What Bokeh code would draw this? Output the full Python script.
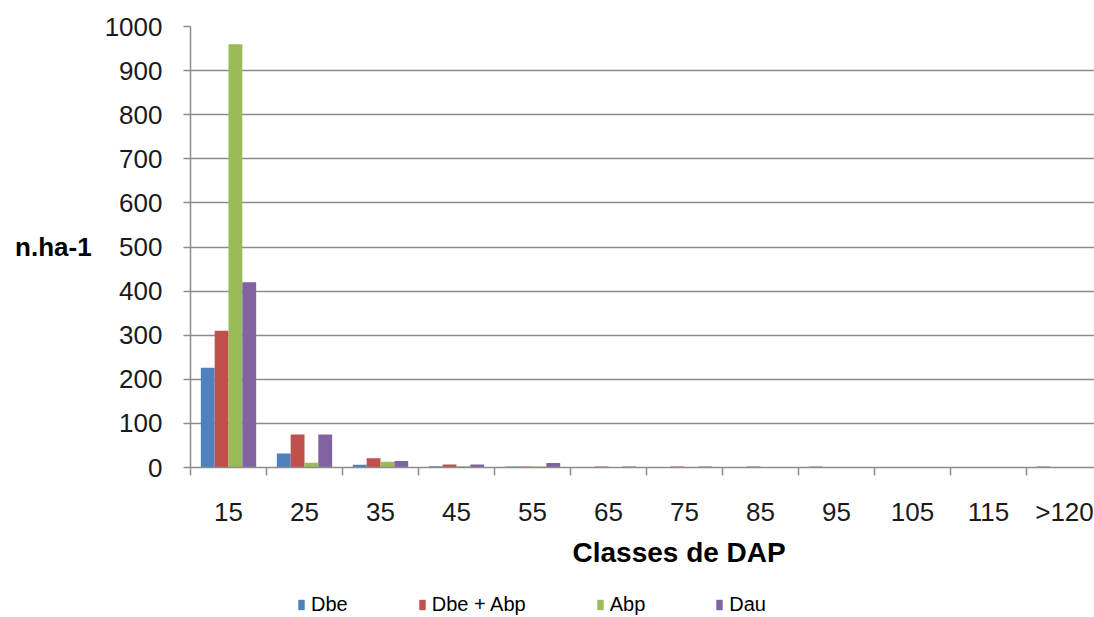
from bokeh.plotting import figure
from bokeh.layouts import column
from bokeh.models import (ColumnDataSource, FixedTicker, CustomJSTickFormatter,
                          Range1d, Legend, LegendItem, Title)
from bokeh.transform import dodge
from bokeh.embed import file_html
from bokeh.resources import INLINE

categories = ["15", "25", "35", "45", "55", "65", "75", "85", "95", "105", "115", ">120"]
dbe = [226, 32, 6, 3, 2, 0, 0, 0, 2, 0, 0, 2]
dbe_abp = [310, 75, 21, 7, 2, 2, 2, 2, 0, 0, 0, 0]
abp = [960, 11, 13, 3, 2, 0, 0, 0, 0, 0, 0, 0]
dau = [420, 75, 15, 7, 10, 2, 2, 0, 0, 0, 0, 0]
series_names = ["Dbe", "Dbe + Abp", "Abp", "Dau"]
series_cols = ["dbe", "dbe_abp", "abp", "dau"]
colors = ["#4F81BD", "#C0504D", "#9BBB59", "#8064A2"]
y_ticks = list(range(0, 1001, 100))

src = ColumnDataSource(dict(
    x=[i + 0.5 for i in range(len(categories))],
    dbe=dbe, dbe_abp=dbe_abp, abp=abp, dau=dau,
))

FONT = "Liberation Sans"
GRID = "#8C8C8C"

p = figure(width=1094, height=572, output_backend="svg", toolbar_location=None,
           x_range=Range1d(0, 904 / 76), y_range=Range1d(0, 1000),
           min_border_left=190, min_border_right=0, min_border_top=26,
           min_border_bottom=104)
p.outline_line_color = None
p.background_fill_color = "white"
p.border_fill_color = "white"

bw = 0.182
for k, (col, c) in enumerate(zip(series_cols, colors)):
    p.vbar(x=dodge("x", (k - 1.5) * bw, range=p.x_range), top=col, width=bw,
           source=src, fill_color=c, line_color=None)

# x axis
p.xaxis.ticker = FixedTicker(ticks=[i + 0.5 for i in range(len(categories))],
                             minor_ticks=list(range(len(categories) + 1)))
p.xaxis.formatter = CustomJSTickFormatter(args=dict(labels=categories),
                                          code="return labels[Math.floor(tick)];")
p.xaxis.major_tick_out = 0
p.xaxis.major_tick_in = 0
p.xaxis.minor_tick_out = 8
p.xaxis.minor_tick_in = 0
p.xaxis.minor_tick_line_color = GRID
p.xaxis.minor_tick_line_width = 1.5
p.xaxis.axis_line_color = GRID
p.xaxis.axis_line_width = 1.5
p.xaxis.major_label_standoff = 21
p.xaxis.major_label_text_font = FONT
p.xaxis.major_label_text_font_size = "26px"
p.xaxis.major_label_text_color = "#1a1a1a"

xtitle = Title(text="Classes de DAP", align="left", offset=382,
               text_font=FONT, text_font_size="28px", text_font_style="bold",
               text_color="#000000", standoff=10)
p.add_layout(xtitle, "below")

# y axis
p.yaxis.ticker = FixedTicker(ticks=y_ticks, minor_ticks=[])
p.yaxis.major_tick_out = 7
p.yaxis.major_tick_in = 0
p.yaxis.major_tick_line_color = GRID
p.yaxis.major_tick_line_width = 1.5
p.yaxis.minor_tick_out = 0
p.yaxis.minor_tick_in = 0
p.yaxis.axis_line_color = GRID
p.yaxis.axis_line_width = 1.5
p.yaxis.major_label_standoff = 21
p.yaxis.major_label_text_font = FONT
p.yaxis.major_label_text_font_size = "26px"
p.yaxis.major_label_text_color = "#1a1a1a"
p.yaxis.axis_label = "n.ha-1"
p.yaxis.axis_label_orientation = "horizontal"
p.yaxis.axis_label_text_font = FONT
p.yaxis.axis_label_text_font_size = "26px"
p.yaxis.axis_label_text_font_style = "bold"
p.yaxis.axis_label_text_color = "#000000"
p.yaxis.axis_label_text_baseline = "bottom"
p.yaxis.axis_label_standoff = 10

p.xgrid.grid_line_color = None
p.ygrid.ticker = FixedTicker(ticks=y_ticks)
p.ygrid.grid_line_color = GRID
p.ygrid.grid_line_width = 1.5

# legend strip below the chart (its bars lie outside its visible range)
leg = figure(width=1094, height=45, output_backend="svg", toolbar_location=None,
             x_range=p.x_range, y_range=Range1d(5000, 6000),
             min_border=0)
leg.axis.visible = False
leg.grid.visible = False
leg.outline_line_color = None
leg_renderers = [leg.vbar(x=dodge("x", (k - 1.5) * bw, range=leg.x_range), top=col,
                          width=bw, source=src, fill_color=c, line_color=None)
                 for k, (col, c) in enumerate(zip(series_cols, colors))]
legend = Legend(items=[LegendItem(label=n, renderers=[r]) for n, r in zip(series_names, leg_renderers)],
                orientation="horizontal", location=(107, 1), spacing=70,
                label_standoff=6, glyph_width=8, glyph_height=13,
                label_text_font=FONT, label_text_font_size="20px",
                label_text_color="#000000", border_line_color=None,
                background_fill_alpha=0, padding=0, margin=0)
leg.add_layout(legend)

open("out.html", "w").write(file_html(column(p, leg), INLINE))
